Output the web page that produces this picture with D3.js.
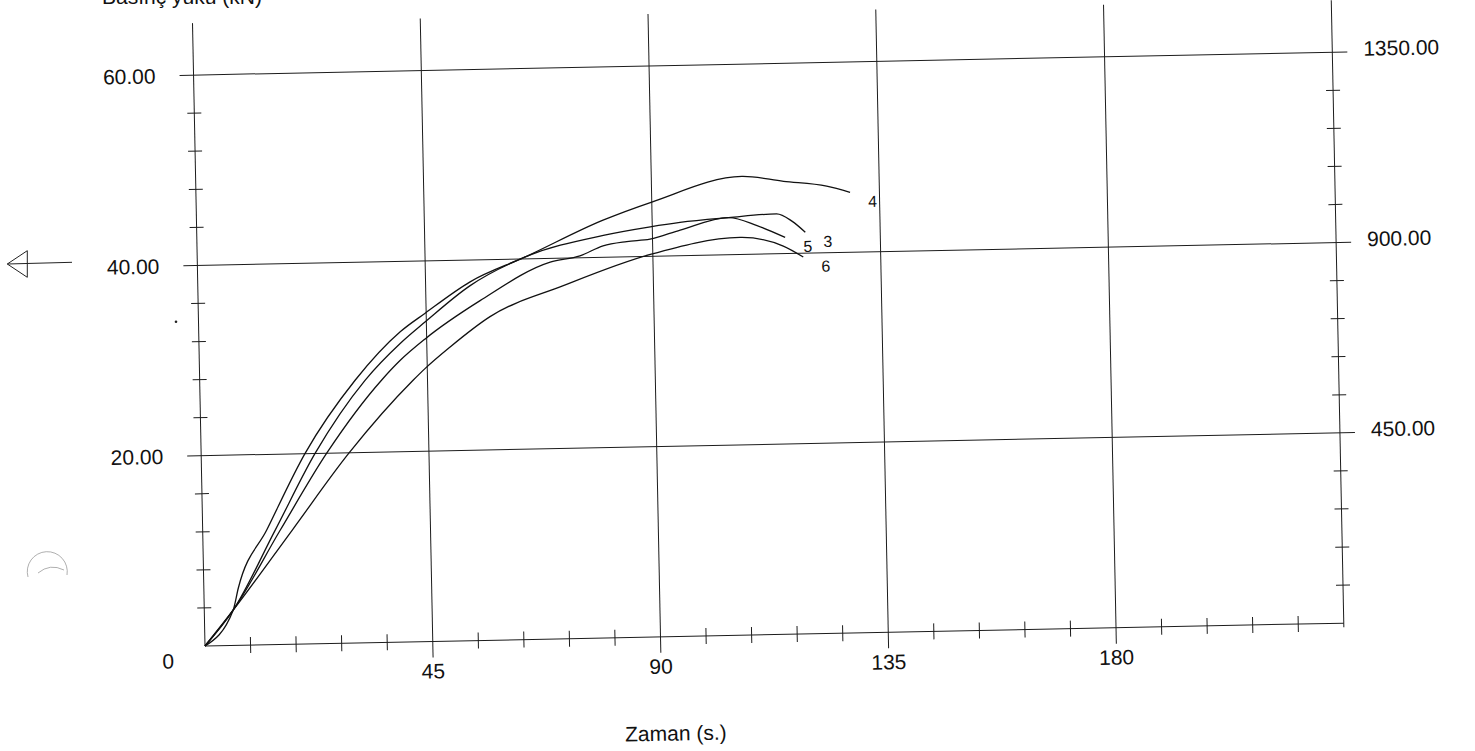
<!DOCTYPE html>
<html>
<head>
<meta charset="utf-8">
<script src="https://d3js.org/d3.v7.min.js"></script>
<style>
    html, body {
        margin: 0;
        padding: 0;
        background: #fff;
        overflow: hidden;
    }

    text {
        font-family: "Liberation Sans", Arial, sans-serif;
        fill: #111;
    }

    .grid line, .axis line, .ticks line {
        stroke: #1c1c1c;
        stroke-width: 1;
    }

    .curve {
        fill: none;
        stroke: #111;
        stroke-width: 1.3;
    }
</style>
</head>
<body>

<svg id="chart" width="1475" height="751"></svg>

<script>
// major ticks / labels
var xMajor = [45, 90, 135, 180];
var yMajor = [20, 40, 60];
var yMajorLabels = ["20.00", "40.00", "60.00"];
var rMajor = [450, 900, 1350];
var rMajorLabels = ["450.00", "900.00", "1350.00"];

// curves: time (s) and force (left scale)
var names = ["4", "3", "5", "6"];

var t4 = [0, 5.7, 6.8, 12.7, 20.5, 30.7, 39.8, 44.8, 53.8, 64.8, 80.3, 90.0, 107.9, 116.1, 124.6, 129.2];
var f4 = [0, 3.7, 6.0, 12.1, 20.0, 27.6, 32.6, 34.5, 37.7, 40.2, 43.9, 45.7, 48.2, 47.6, 47.0, 46.3];

var t3 = [0, 5.7, 14.3, 22.5, 32.7, 39.8, 44.8, 53.8, 64.8, 80.3, 89.6, 95.5, 105.1, 114.6, 117.6, 120.2];
var f3 = [0, 3.7, 12.0, 20.0, 27.6, 31.4, 33.6, 37.3, 40.2, 42.3, 43.1, 43.5, 43.9, 44.2, 43.4, 42.2];

var t5 = [0, 5.7, 15.3, 24.8, 36.0, 39.7, 44.7, 55.7, 69.7, 75.6, 80.2, 84.9, 89.5, 95.5, 105.1, 110.7, 116.2];
var f5 = [0, 3.7, 12.0, 20.0, 27.6, 29.6, 31.8, 35.7, 39.6, 40.2, 41.2, 41.6, 41.8, 42.7, 43.9, 43.0, 41.7];

var t6 = [0, 5.7, 17.7, 29.1, 42.2, 44.6, 49.6, 57.6, 72.2, 89.5, 107.3, 115.8, 119.7];
var f6 = [0, 3.7, 12.0, 19.9, 27.5, 28.7, 30.9, 34.0, 37.1, 40.2, 41.8, 40.8, 39.6];

var series = [
    {name: names[0], t: t4, f: f4},
    {name: names[1], t: t3, f: f3},
    {name: names[2], t: t5, f: f5},
    {name: names[3], t: t6, f: f6}
];

var svg = d3.select("#chart");

// the page was scanned a little crooked, so the plot is tilted
var ox = 205, oy = 646, tilt = -1.15;
var yTop = -623;

var x = d3.scaleLinear().domain([0, 225]).range([0, 1139]);
var y = d3.scaleLinear().domain([0, 60]).range([0, -571]);
var yR = d3.scaleLinear().domain([0, 1350]).range([0, -571]);

var g = svg.append("g")
    .attr("transform", "translate(" + ox + "," + oy + ") rotate(" + tilt + ")");

// horizontal grid
var grid = g.append("g").attr("class", "grid");
grid.selectAll("line.h")
    .data(yMajor)
    .enter().append("line")
    .attr("class", "h")
    .attr("x1", -14)
    .attr("x2", x(225) + 15)
    .attr("y1", function(d) { return y(d); })
    .attr("y2", function(d) { return y(d); });

// vertical grid
grid.selectAll("line.v")
    .data(xMajor)
    .enter().append("line")
    .attr("class", "v")
    .attr("x1", function(d) { return x(d); })
    .attr("x2", function(d) { return x(d); })
    .attr("y1", 16)
    .attr("y2", yTop);

// axes
var axis = g.append("g").attr("class", "axis");
axis.append("line").attr("x1", 0).attr("x2", x(225)).attr("y1", 0).attr("y2", 0);
axis.append("line").attr("x1", 0).attr("x2", 0).attr("y1", 0).attr("y2", yTop);
axis.append("line").attr("x1", x(225)).attr("x2", x(225)).attr("y1", 4).attr("y2", yTop);

// minor ticks
var ticks = g.append("g").attr("class", "ticks");
var xMinor = d3.range(9, 225, 9).filter(function(d) { return d % 45 !== 0; });
var yMinor = d3.range(4, 60, 4).filter(function(d) { return d % 20 !== 0; });
var rMinor = d3.range(90, 1350, 90).filter(function(d) { return d % 450 !== 0; });

ticks.selectAll("line.xm")
    .data(xMinor)
    .enter().append("line")
    .attr("class", "xm")
    .attr("x1", function(d) { return x(d); })
    .attr("x2", function(d) { return x(d); })
    .attr("y1", -8)
    .attr("y2", 8);

ticks.selectAll("line.ym")
    .data(yMinor)
    .enter().append("line")
    .attr("class", "ym")
    .attr("x1", -7)
    .attr("x2", 7)
    .attr("y1", function(d) { return y(d); })
    .attr("y2", function(d) { return y(d); });

ticks.selectAll("line.rm")
    .data(rMinor)
    .enter().append("line")
    .attr("class", "rm")
    .attr("x1", x(225) - 7)
    .attr("x2", x(225) + 7)
    .attr("y1", function(d) { return yR(d); })
    .attr("y2", function(d) { return yR(d); });

// tick labels
var labels = g.append("g").style("font-size", "21px");

labels.selectAll("text.yl")
    .data(yMajor)
    .enter().append("text")
    .attr("class", "yl")
    .attr("x", -38)
    .attr("y", function(d) { return y(d); })
    .attr("dy", "0.36em")
    .attr("text-anchor", "end")
    .text(function(d, i) { return yMajorLabels[i]; });

labels.selectAll("text.rl")
    .data(rMajor)
    .enter().append("text")
    .attr("class", "rl")
    .attr("x", x(225) + 31)
    .attr("y", function(d) { return yR(d); })
    .attr("dy", "0.2em")
    .attr("text-anchor", "start")
    .text(function(d, i) { return rMajorLabels[i]; });

labels.selectAll("text.xl")
    .data(xMajor)
    .enter().append("text")
    .attr("class", "xl")
    .attr("x", function(d) { return x(d); })
    .attr("y", 37)
    .attr("text-anchor", "middle")
    .text(function(d) { return d; });

labels.append("text")
    .attr("x", -37)
    .attr("y", 22)
    .attr("text-anchor", "middle")
    .text("0");

labels.append("text")
    .attr("x", 469)
    .attr("y", 104)
    .attr("text-anchor", "middle")
    .text("Zaman (s.)");

// curves
var line = d3.line()
    .x(function(d) { return x(d[0]); })
    .y(function(d) { return y(d[1]); })
    .curve(d3.curveMonotoneX);

var curves = g.append("g");
series.forEach(function(s) {
    var pts = s.t.map(function(t, i) { return [t, s.f[i]]; });
    curves.append("path")
        .attr("class", "curve")
        .attr("d", line(pts));

    var last = pts[pts.length - 1];
    curves.append("text")
        .attr("x", x(last[0]) + 18)
        .attr("y", y(last[1]) + 15)
        .style("font-size", "16px")
        .text(s.name);
});

// y-axis caption, cut off at the top of the scan
svg.append("text")
    .attr("x", 102)
    .attr("y", 3.5)
    .style("font-size", "21px")
    .text("Basınç yükü (kN)");

// arrow next to the left scale
svg.append("path")
    .attr("d", "M72,262.3 L7.3,264 M27.3,250.7 L7.3,264 L27.3,277.3 Z")
    .attr("fill", "none")
    .attr("stroke", "#222")
    .attr("stroke-width", 1);

// marks left on the scan
svg.append("path")
    .attr("d", "M28,577 A20,20 0 1,1 67,575 M38,573 Q50,563 64,570")
    .attr("fill", "none")
    .attr("stroke", "#9a9a9a")
    .attr("stroke-width", 0.8);

svg.append("circle")
    .attr("cx", 176)
    .attr("cy", 321.7)
    .attr("r", 1.3)
    .attr("fill", "#222");
</script>
</body>
</html>
